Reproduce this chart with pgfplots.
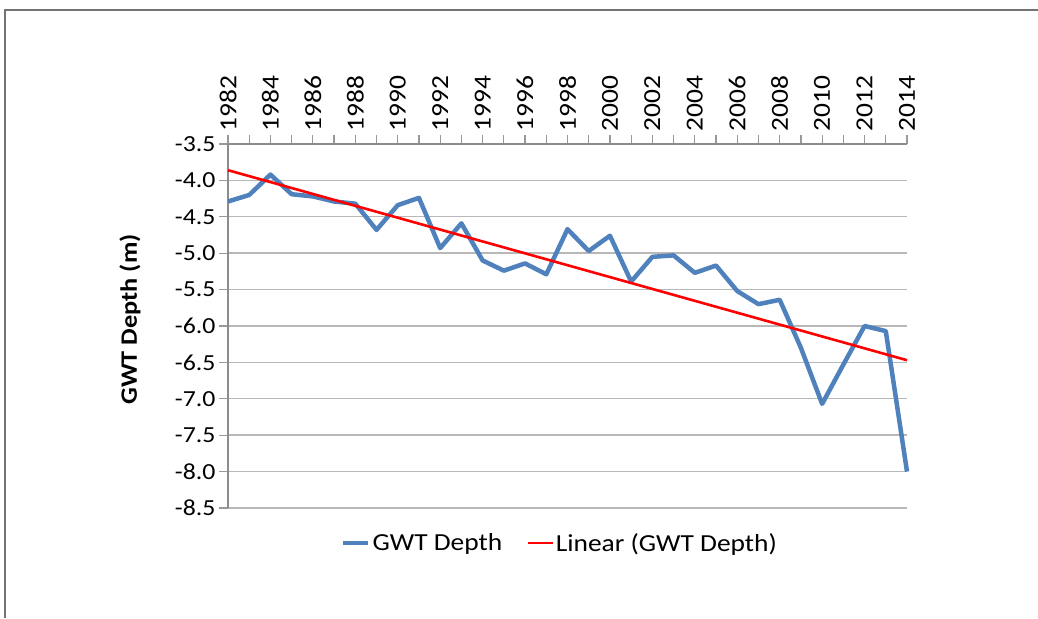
\documentclass[border=0pt]{standalone}
\usepackage{pgfplots}
\pgfplotsset{compat=1.18}
\usepackage{fontspec}
\setmainfont[FakeStretch=1.12]{Carlito}
\definecolor{gwtblue}{HTML}{4F81BD}
\begin{document}
\begin{tikzpicture}
\useasboundingbox (0,0) rectangle (1038pt,618pt);
\draw[black!55, line width=1.2pt] (5pt,0pt) -- (5pt,608pt) -- (1038pt,608pt);
\begin{axis}[
  at={(228pt,110pt)}, anchor=south west,
  scale only axis, width=679pt, height=364pt,
  xmin=1982, xmax=2014, ymin=-8.5, ymax=-3.5,
  axis x line*=top, axis y line*=left,
  xtick={1982,1984,...,2014}, minor xtick={1983,1985,...,2013},
  ytick={-8.5,-8,-7.5,-7,-6.5,-6,-5.5,-5,-4.5,-4,-3.5},
  tick align=outside,
  major tick length=9pt, minor tick length=9pt,
  every tick/.style={black!40, line width=1.2pt},
  x axis line style={black!45, line width=2.5pt, -},
  y axis line style={black!45, line width=1.3pt, -},
  ymajorgrids, major grid style={black!28, line width=1.4pt},
  /pgf/number format/assume math mode=true,
  xticklabel style={rotate=90, anchor=west, font=\fontsize{24.5}{28}\selectfont, /pgf/number format/1000 sep={}},
  yticklabel style={font=\fontsize{23}{27}\selectfont, /pgf/number format/.cd, fixed, fixed zerofill, precision=1},
  ylabel={\bfseries GWT Depth (m)},
  ylabel style={at={(axis description cs:-0.1443,0.518)}, anchor=center, font=\fontsize{23.5}{28}\selectfont},
  legend columns=2,
  legend style={at={(axis description cs:0.489,-0.096)}, anchor=center, draw=none, fill=none,
    font=\fontsize{24.5}{29}\selectfont, inner sep=0pt,
    /tikz/every even column/.append style={column sep=22pt}},
  legend image code/.code={\draw[#1] (0pt,0pt) -- (25pt,0pt);},
  clip=false,
]
\addplot[gwtblue, line width=4.5pt, line join=round] coordinates {
(1982,-4.29) (1983,-4.20) (1984,-3.92) (1985,-4.19) (1986,-4.22) (1987,-4.29)
(1988,-4.32) (1989,-4.68) (1990,-4.34) (1991,-4.24) (1992,-4.93) (1993,-4.59)
(1994,-5.10) (1995,-5.24) (1996,-5.14) (1997,-5.29) (1998,-4.67) (1999,-4.97)
(2000,-4.76) (2001,-5.39) (2002,-5.05) (2003,-5.03) (2004,-5.27) (2005,-5.17)
(2006,-5.52) (2007,-5.70) (2008,-5.64) (2009,-6.30) (2010,-7.07) (2011,-6.53)
(2012,-6.00) (2013,-6.07) (2014,-8.00)
};
\addlegendentry{GWT Depth}
\addplot[red, line width=2.6pt] coordinates {(1982,-3.86) (2014,-6.47)};
\addlegendentry{Linear (GWT Depth)}
\end{axis}
\end{tikzpicture}
\end{document}
